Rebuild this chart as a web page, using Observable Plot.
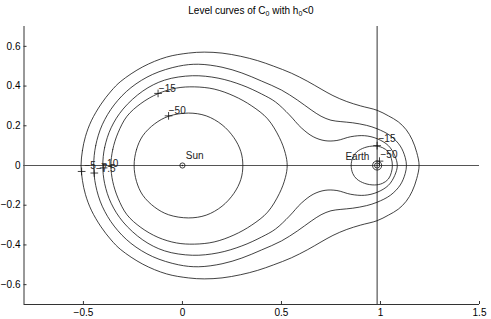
<!DOCTYPE html>
<html><head><meta charset="utf-8">
<script src="https://cdn.jsdelivr.net/npm/d3@7"></script>
<script src="https://cdn.jsdelivr.net/npm/@observablehq/plot@0.6"></script>
<style>
body{margin:0;background:#fff;font-family:"Liberation Sans",Arial,sans-serif;}
#wrap{position:relative;width:491px;height:319px;}
#title{position:absolute;top:5px;left:23px;width:456px;text-align:center;font-size:10px;line-height:12px;color:#000;}
#title sub{font-size:7px;vertical-align:-2px;line-height:0;}
svg{position:absolute;top:0;left:0;}
</style></head><body>
<div id="wrap"><div id="title">Level curves of C<sub>0</sub> with h<sub>0</sub>&lt;0</div></div>
<script>
// ---- data ----
const xTicks = [-0.5, 0, 0.5, 1, 1.5];
const yTicks = [-0.6, -0.4, -0.2, 0, 0.2, 0.4, 0.6];
const earthX = 0.983;
const bodies = [{name: "Sun", x: 0, y: 0}, {name: "Earth", x: 0.983, y: 0}];
const bodyLabels = [{name: "Sun", x: 0.017, y: 0.047}, {name: "Earth", x: 0.823, y: 0.042}];

// upper halves of level curves (curves are symmetric about y = 0)
const curveM5 = [[-0.512,0],[-0.505,0.075],[-0.49,0.145],[-0.46,0.225],[-0.411,0.309],[-0.36,0.375],[-0.311,0.424],[-0.2,0.497],[-0.08,0.546],[0.03,0.566],[0.11,0.571],[0.2,0.566],[0.294,0.55],[0.38,0.528],[0.461,0.5],[0.55,0.465],[0.63,0.425],[0.7,0.385],[0.76,0.352],[0.83,0.322],[0.9,0.3],[0.983,0.278],[1.04,0.25],[1.09,0.22],[1.13,0.18],[1.16,0.13],[1.183,0.066],[1.195,0]];
const curveM7_5 = [[-0.448,0],[-0.438,0.1],[-0.405,0.205],[-0.345,0.305],[-0.26,0.392],[-0.15,0.459],[-0.02,0.5],[0.08,0.51],[0.2,0.495],[0.3,0.466],[0.4,0.425],[0.5,0.38],[0.58,0.33],[0.65,0.28],[0.7,0.248],[0.75,0.228],[0.8,0.221],[0.86,0.215],[0.93,0.202],[0.983,0.185],[1.05,0.15],[1.1,0.098],[1.125,0.04],[1.131,0]];
const curveM10 = [[-0.402,0],[-0.393,0.09],[-0.36,0.19],[-0.3,0.284],[-0.2,0.375],[-0.09,0.43],[0.05,0.452],[0.18,0.44],[0.3,0.405],[0.4,0.36],[0.47,0.32],[0.54,0.255],[0.6,0.19],[0.66,0.145],[0.72,0.125],[0.78,0.126],[0.85,0.145],[0.92,0.15],[0.983,0.135],[1.04,0.1],[1.072,0.05],[1.085,0]];
const curveM15Sun = [[-0.361,0],[-0.352,0.08],[-0.325,0.165],[-0.28,0.248],[-0.21,0.312],[-0.123,0.362],[-0.03,0.39],[0.06,0.396],[0.16,0.385],[0.26,0.35],[0.35,0.3],[0.43,0.235],[0.49,0.14],[0.52,0.06],[0.529,0]];
const curveM15Earth = [[0.852,0],[0.86,0.04],[0.88,0.068],[0.92,0.09],[0.97,0.098],[1.01,0.09],[1.04,0.068],[1.055,0.035],[1.06,0]];
const curveM50Sun = [[-0.244,0],[-0.232,0.08],[-0.2,0.15],[-0.14,0.21],[-0.07,0.248],[0.03,0.264],[0.12,0.25],[0.2,0.205],[0.26,0.14],[0.295,0.07],[0.305,0]];
const curveM50Earth = [[0.96,0],[0.966,0.016],[0.983,0.023],[1.0,0.016],[1.006,0]];

const levelNames = ["−5", "−7.5", "−10", "−15", "−15", "−50", "−50"];
const levelCurves = [curveM5, curveM7_5, curveM10, curveM15Sun, curveM15Earth, curveM50Sun, curveM50Earth];

// contour label anchors ("+") and label text positions
const labelPlus = [[-0.509,-0.03],[-0.445,-0.038],[-0.398,-0.012],[-0.123,0.363],[-0.07,0.25],[0.983,0.1],[0.995,0.022]];
const labelText = [[-0.495,-0.004],[-0.437,-0.018],[-0.41,0.008],[-0.119,0.385],[-0.069,0.275],[0.99,0.133],[1.0,0.055]];
const labelNames = ["−5", "−7.5", "−10", "−15", "−50", "−15", "−50"];

// ---- build tables ----
const rows = [];
levelCurves.forEach((c, i) => {
  const full = c.concat(c.slice(1, -1).reverse().map(([x, y]) => [x, -y]));
  full.forEach(([x, y]) => rows.push({id: i, level: levelNames[i], x, y}));
});
const plusRows = labelPlus.map(([x, y], i) => ({x, y, t: labelNames[i]}));
const textRows = labelText.map(([x, y], i) => ({x, y, t: labelNames[i]}));
const fmt = d => String(d).replace("-", "−");

const chart = Plot.plot({
  width: 491, height: 319,
  marginLeft: 23.5, marginRight: 12, marginTop: 26, marginBottom: 15,
  x: {domain: [-0.8, 1.5]},
  y: {domain: [-0.7, 0.7]},
  style: {fontFamily: "'Liberation Sans', Arial, sans-serif", fontSize: "10px", color: "#000", background: "transparent"},
  marks: [
    Plot.axisX({ticks: xTicks, tickSize: -3, tickPadding: 7.5, tickFormat: fmt, label: null, stroke: "#333", fill: "#000"}),
    Plot.axisY({ticks: yTicks, tickSize: -3, tickPadding: 6.5, tickFormat: fmt, label: null, stroke: "#333", fill: "#000"}),
    Plot.ruleX([-0.8], {stroke: "#333"}),
    Plot.ruleY([-0.7], {stroke: "#333"}),
    Plot.ruleY([0], {stroke: "#555"}),
    Plot.ruleX([earthX], {stroke: "#333"}),
    Plot.line(rows, {x: "x", y: "y", z: "id", curve: "catmull-rom-closed", stroke: "#111", strokeWidth: 0.8}),
    Plot.dot(bodies, {x: "x", y: "y", r: 2.6, stroke: "#111", strokeWidth: 0.8, fill: "none"}),
    Plot.dot(bodies, {x: "x", y: "y", r: 0.7, fill: "#111", stroke: null}),
    Plot.text(bodyLabels, {x: "x", y: "y", text: "name", textAnchor: "start", lineAnchor: "middle", fill: "#222"}),
    Plot.dot(plusRows, {x: "x", y: "y", symbol: "plus", r: 2.6, stroke: "#111", strokeWidth: 0.8}),
    Plot.text(textRows, {x: "x", y: "y", text: "t", textAnchor: "start", lineAnchor: "middle", fill: "#222"})
  ]
});
document.getElementById("wrap").appendChild(chart);
</script>
</body></html>
